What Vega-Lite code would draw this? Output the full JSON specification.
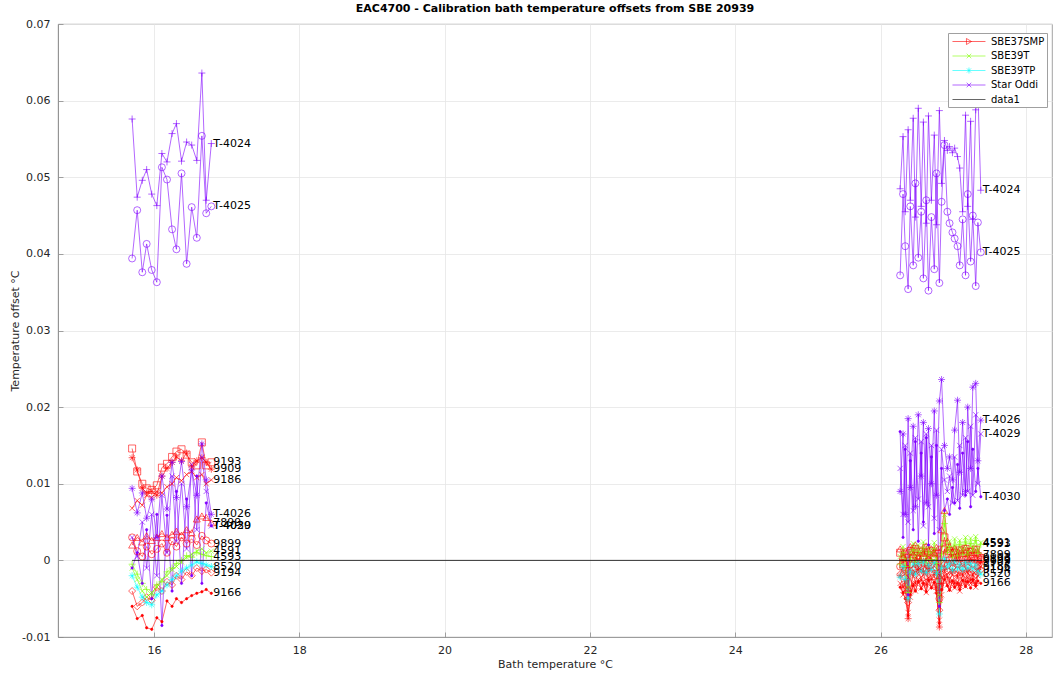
{
"$schema": "https://vega.github.io/schema/vega-lite/v6.json",
"autosize": "none",
"padding": {"left": 58, "top": 24, "right": 1, "bottom": 41},
"width": 994,
"height": 613,
"background": "white",
"title": {"text": "EAC4700 - Calibration bath temperature offsets from SBE 20939", "fontSize": 11, "fontWeight": "bold", "font": "DejaVu Sans", "color": "#000000", "offset": 4, "anchor": "middle"},
"datasets": {
"series": [
{"n":"9193","type":"SBE37SMP"},{"n":"9909","type":"SBE37SMP"},{"n":"9186","type":"SBE37SMP"},{"n":"7899","type":"SBE37SMP"},{"n":"9899","type":"SBE37SMP"},{"n":"9194","type":"SBE37SMP"},{"n":"9166","type":"SBE37SMP"},
{"n":"4591","type":"SBE39T"},{"n":"4593","type":"SBE39T"},{"n":"8520","type":"SBE39TP"},
{"n":"T-4024","type":"Star Oddi"},{"n":"T-4025","type":"Star Oddi"},{"n":"T-4026","type":"Star Oddi"},{"n":"T-4029","type":"Star Oddi"},{"n":"T-4030","type":"Star Oddi"}
],
"temps": [
{"k":0,"x":15.70,"c":1},{"k":1,"x":15.77,"c":1},{"k":2,"x":15.84,"c":1},{"k":3,"x":15.90,"c":1},{"k":4,"x":15.97,"c":1},{"k":5,"x":16.04,"c":1},{"k":6,"x":16.11,"c":1},{"k":7,"x":16.18,"c":1},{"k":8,"x":16.25,"c":1},{"k":9,"x":16.31,"c":1},{"k":10,"x":16.38,"c":1},{"k":11,"x":16.45,"c":1},{"k":12,"x":16.52,"c":1},{"k":13,"x":16.59,"c":1},{"k":14,"x":16.66,"c":1},{"k":15,"x":16.72,"c":1},{"k":16,"x":16.79,"c":1},
{"k":17,"x":26.27,"c":2},{"k":18,"x":26.31,"c":2},{"k":19,"x":26.34,"c":2},{"k":20,"x":26.38,"c":2},{"k":21,"x":26.41,"c":2},{"k":22,"x":26.45,"c":2},{"k":23,"x":26.48,"c":2},{"k":24,"x":26.52,"c":2},{"k":25,"x":26.56,"c":2},{"k":26,"x":26.59,"c":2},{"k":27,"x":26.63,"c":2},{"k":28,"x":26.66,"c":2},{"k":29,"x":26.70,"c":2},{"k":30,"x":26.74,"c":2},{"k":31,"x":26.77,"c":2},{"k":32,"x":26.81,"c":2},{"k":33,"x":26.84,"c":2},{"k":34,"x":26.88,"c":2},{"k":35,"x":26.92,"c":2},{"k":36,"x":26.95,"c":2},{"k":37,"x":26.99,"c":2},{"k":38,"x":27.02,"c":2},{"k":39,"x":27.06,"c":2},{"k":40,"x":27.09,"c":2},{"k":41,"x":27.13,"c":2},{"k":42,"x":27.17,"c":2},{"k":43,"x":27.20,"c":2},{"k":44,"x":27.24,"c":2},{"k":45,"x":27.27,"c":2},{"k":46,"x":27.31,"c":2},{"k":47,"x":27.34,"c":2},{"k":48,"x":27.38,"c":2}
],
"zero": [{"type":"data1","x":15.70,"y":0},{"type":"data1","x":27.40,"y":0}],
"obs": [
{"n":"9193","k":0,"y":0.0146},{"n":"9193","k":1,"y":0.0116},{"n":"9193","k":2,"y":0.0100},{"n":"9193","k":3,"y":0.0094},{"n":"9193","k":4,"y":0.0092},{"n":"9193","k":5,"y":0.0098},{"n":"9193","k":6,"y":0.0121},{"n":"9193","k":7,"y":0.0126},{"n":"9193","k":8,"y":0.0135},{"n":"9193","k":9,"y":0.0142},{"n":"9193","k":10,"y":0.0145},{"n":"9193","k":11,"y":0.0138},{"n":"9193","k":12,"y":0.0128},{"n":"9193","k":13,"y":0.0124},{"n":"9193","k":14,"y":0.0154},{"n":"9193","k":15,"y":0.0124},{"n":"9193","k":16,"y":0.0128},
{"n":"9193","k":17,"y":0.0010},{"n":"9193","k":18,"y":-0.0005},{"n":"9193","k":19,"y":0.0008},{"n":"9193","k":20,"y":-0.0030},{"n":"9193","k":21,"y":0.0012},{"n":"9193","k":22,"y":0.0002},{"n":"9193","k":23,"y":0.0015},{"n":"9193","k":24,"y":-0.0003},{"n":"9193","k":25,"y":0.0011},{"n":"9193","k":26,"y":0.0004},{"n":"9193","k":27,"y":0.0016},{"n":"9193","k":28,"y":-0.0002},{"n":"9193","k":29,"y":0.0012},{"n":"9193","k":30,"y":0.0005},{"n":"9193","k":31,"y":0.0009},{"n":"9193","k":32,"y":-0.0035},{"n":"9193","k":33,"y":0.0014},{"n":"9193","k":34,"y":0.0030},{"n":"9193","k":35,"y":0.0008},{"n":"9193","k":36,"y":0.0012},{"n":"9193","k":37,"y":0.0003},{"n":"9193","k":38,"y":0.0010},{"n":"9193","k":39,"y":-0.0001},{"n":"9193","k":40,"y":0.0013},{"n":"9193","k":41,"y":0.0004},{"n":"9193","k":42,"y":0.0015},{"n":"9193","k":43,"y":0.0002},{"n":"9193","k":44,"y":0.0011},{"n":"9193","k":45,"y":0.0006},{"n":"9193","k":46,"y":0.0014},{"n":"9193","k":47,"y":0.0001},{"n":"9193","k":48,"y":0.0003},
{"n":"9909","k":0,"y":0.0134},{"n":"9909","k":1,"y":0.0118},{"n":"9909","k":2,"y":0.0094},{"n":"9909","k":3,"y":0.0088},{"n":"9909","k":4,"y":0.0090},{"n":"9909","k":5,"y":0.0085},{"n":"9909","k":6,"y":0.0110},{"n":"9909","k":7,"y":0.0120},{"n":"9909","k":8,"y":0.0128},{"n":"9909","k":9,"y":0.0135},{"n":"9909","k":10,"y":0.0130},{"n":"9909","k":11,"y":0.0140},{"n":"9909","k":12,"y":0.0122},{"n":"9909","k":13,"y":0.0130},{"n":"9909","k":14,"y":0.0134},{"n":"9909","k":15,"y":0.0128},{"n":"9909","k":16,"y":0.0119},
{"n":"9909","k":17,"y":-0.0020},{"n":"9909","k":18,"y":-0.0035},{"n":"9909","k":19,"y":-0.0028},{"n":"9909","k":20,"y":-0.0076},{"n":"9909","k":21,"y":-0.0040},{"n":"9909","k":22,"y":-0.0018},{"n":"9909","k":23,"y":-0.0030},{"n":"9909","k":24,"y":-0.0012},{"n":"9909","k":25,"y":-0.0026},{"n":"9909","k":26,"y":-0.0015},{"n":"9909","k":27,"y":-0.0032},{"n":"9909","k":28,"y":-0.0010},{"n":"9909","k":29,"y":-0.0025},{"n":"9909","k":30,"y":-0.0018},{"n":"9909","k":31,"y":-0.0035},{"n":"9909","k":32,"y":-0.0087},{"n":"9909","k":33,"y":-0.0030},{"n":"9909","k":34,"y":-0.0012},{"n":"9909","k":35,"y":-0.0022},{"n":"9909","k":36,"y":-0.0028},{"n":"9909","k":37,"y":-0.0015},{"n":"9909","k":38,"y":-0.0030},{"n":"9909","k":39,"y":-0.0020},{"n":"9909","k":40,"y":-0.0033},{"n":"9909","k":41,"y":-0.0018},{"n":"9909","k":42,"y":-0.0028},{"n":"9909","k":43,"y":-0.0014},{"n":"9909","k":44,"y":-0.0026},{"n":"9909","k":45,"y":-0.0019},{"n":"9909","k":46,"y":-0.0030},{"n":"9909","k":47,"y":-0.0012},{"n":"9909","k":48,"y":-0.0002},
{"n":"9186","k":0,"y":0.0068},{"n":"9186","k":1,"y":0.0078},{"n":"9186","k":2,"y":0.0072},{"n":"9186","k":3,"y":0.0085},{"n":"9186","k":4,"y":0.0082},{"n":"9186","k":5,"y":0.0090},{"n":"9186","k":6,"y":0.0088},{"n":"9186","k":7,"y":0.0096},{"n":"9186","k":8,"y":0.0100},{"n":"9186","k":9,"y":0.0108},{"n":"9186","k":10,"y":0.0104},{"n":"9186","k":11,"y":0.0112},{"n":"9186","k":12,"y":0.0116},{"n":"9186","k":13,"y":0.0108},{"n":"9186","k":14,"y":0.0112},{"n":"9186","k":15,"y":0.0100},{"n":"9186","k":16,"y":0.0105},
{"n":"9186","k":17,"y":-0.0030},{"n":"9186","k":18,"y":-0.0045},{"n":"9186","k":19,"y":-0.0038},{"n":"9186","k":20,"y":-0.0068},{"n":"9186","k":21,"y":-0.0048},{"n":"9186","k":22,"y":-0.0030},{"n":"9186","k":23,"y":-0.0040},{"n":"9186","k":24,"y":-0.0025},{"n":"9186","k":25,"y":-0.0036},{"n":"9186","k":26,"y":-0.0028},{"n":"9186","k":27,"y":-0.0042},{"n":"9186","k":28,"y":-0.0022},{"n":"9186","k":29,"y":-0.0035},{"n":"9186","k":30,"y":-0.0027},{"n":"9186","k":31,"y":-0.0040},{"n":"9186","k":32,"y":-0.0078},{"n":"9186","k":33,"y":-0.0045},{"n":"9186","k":34,"y":-0.0020},{"n":"9186","k":35,"y":-0.0032},{"n":"9186","k":36,"y":-0.0038},{"n":"9186","k":37,"y":-0.0026},{"n":"9186","k":38,"y":-0.0036},{"n":"9186","k":39,"y":-0.0028},{"n":"9186","k":40,"y":-0.0040},{"n":"9186","k":41,"y":-0.0025},{"n":"9186","k":42,"y":-0.0034},{"n":"9186","k":43,"y":-0.0022},{"n":"9186","k":44,"y":-0.0030},{"n":"9186","k":45,"y":-0.0027},{"n":"9186","k":46,"y":-0.0035},{"n":"9186","k":47,"y":-0.0020},{"n":"9186","k":48,"y":-0.0008},
{"n":"7899","k":0,"y":0.0020},{"n":"7899","k":1,"y":0.0030},{"n":"7899","k":2,"y":0.0024},{"n":"7899","k":3,"y":0.0032},{"n":"7899","k":4,"y":0.0026},{"n":"7899","k":5,"y":0.0030},{"n":"7899","k":6,"y":0.0035},{"n":"7899","k":7,"y":0.0030},{"n":"7899","k":8,"y":0.0034},{"n":"7899","k":9,"y":0.0038},{"n":"7899","k":10,"y":0.0033},{"n":"7899","k":11,"y":0.0040},{"n":"7899","k":12,"y":0.0036},{"n":"7899","k":13,"y":0.0054},{"n":"7899","k":14,"y":0.0058},{"n":"7899","k":15,"y":0.0056},{"n":"7899","k":16,"y":0.0049},
{"n":"7899","k":17,"y":0.0015},{"n":"7899","k":18,"y":0.0005},{"n":"7899","k":19,"y":0.0012},{"n":"7899","k":20,"y":-0.0010},{"n":"7899","k":21,"y":0.0018},{"n":"7899","k":22,"y":0.0008},{"n":"7899","k":23,"y":0.0020},{"n":"7899","k":24,"y":0.0006},{"n":"7899","k":25,"y":0.0014},{"n":"7899","k":26,"y":0.0009},{"n":"7899","k":27,"y":0.0019},{"n":"7899","k":28,"y":0.0004},{"n":"7899","k":29,"y":0.0015},{"n":"7899","k":30,"y":0.0010},{"n":"7899","k":31,"y":0.0017},{"n":"7899","k":32,"y":-0.0020},{"n":"7899","k":33,"y":0.0040},{"n":"7899","k":34,"y":0.0065},{"n":"7899","k":35,"y":0.0025},{"n":"7899","k":36,"y":0.0018},{"n":"7899","k":37,"y":0.0011},{"n":"7899","k":38,"y":0.0016},{"n":"7899","k":39,"y":0.0007},{"n":"7899","k":40,"y":0.0014},{"n":"7899","k":41,"y":0.0009},{"n":"7899","k":42,"y":0.0017},{"n":"7899","k":43,"y":0.0005},{"n":"7899","k":44,"y":0.0013},{"n":"7899","k":45,"y":0.0008},{"n":"7899","k":46,"y":0.0015},{"n":"7899","k":47,"y":0.0010},{"n":"7899","k":48,"y":0.0007},
{"n":"9899","k":0,"y":0.0030},{"n":"9899","k":1,"y":0.0012},{"n":"9899","k":2,"y":0.0005},{"n":"9899","k":3,"y":0.0018},{"n":"9899","k":4,"y":0.0008},{"n":"9899","k":5,"y":0.0015},{"n":"9899","k":6,"y":0.0022},{"n":"9899","k":7,"y":0.0010},{"n":"9899","k":8,"y":0.0025},{"n":"9899","k":9,"y":0.0018},{"n":"9899","k":10,"y":0.0030},{"n":"9899","k":11,"y":0.0022},{"n":"9899","k":12,"y":0.0028},{"n":"9899","k":13,"y":0.0020},{"n":"9899","k":14,"y":0.0032},{"n":"9899","k":15,"y":0.0026},{"n":"9899","k":16,"y":0.0022},
{"n":"9899","k":17,"y":-0.0008},{"n":"9899","k":18,"y":0.0002},{"n":"9899","k":19,"y":-0.0012},{"n":"9899","k":20,"y":-0.0040},{"n":"9899","k":21,"y":-0.0005},{"n":"9899","k":22,"y":0.0004},{"n":"9899","k":23,"y":-0.0010},{"n":"9899","k":24,"y":0.0001},{"n":"9899","k":25,"y":-0.0007},{"n":"9899","k":26,"y":0.0003},{"n":"9899","k":27,"y":-0.0011},{"n":"9899","k":28,"y":0.0000},{"n":"9899","k":29,"y":-0.0006},{"n":"9899","k":30,"y":0.0002},{"n":"9899","k":31,"y":-0.0009},{"n":"9899","k":32,"y":-0.0050},{"n":"9899","k":33,"y":-0.0004},{"n":"9899","k":34,"y":0.0015},{"n":"9899","k":35,"y":-0.0006},{"n":"9899","k":36,"y":0.0001},{"n":"9899","k":37,"y":-0.0008},{"n":"9899","k":38,"y":0.0003},{"n":"9899","k":39,"y":-0.0005},{"n":"9899","k":40,"y":0.0002},{"n":"9899","k":41,"y":-0.0009},{"n":"9899","k":42,"y":0.0001},{"n":"9899","k":43,"y":-0.0006},{"n":"9899","k":44,"y":0.0003},{"n":"9899","k":45,"y":-0.0004},{"n":"9899","k":46,"y":0.0002},{"n":"9899","k":47,"y":-0.0007},{"n":"9899","k":48,"y":0.0001},
{"n":"9194","k":0,"y":-0.0040},{"n":"9194","k":1,"y":-0.0060},{"n":"9194","k":2,"y":-0.0055},{"n":"9194","k":3,"y":-0.0048},{"n":"9194","k":4,"y":-0.0052},{"n":"9194","k":5,"y":-0.0035},{"n":"9194","k":6,"y":-0.0040},{"n":"9194","k":7,"y":-0.0028},{"n":"9194","k":8,"y":-0.0032},{"n":"9194","k":9,"y":-0.0020},{"n":"9194","k":10,"y":-0.0025},{"n":"9194","k":11,"y":-0.0015},{"n":"9194","k":12,"y":-0.0020},{"n":"9194","k":13,"y":-0.0010},{"n":"9194","k":14,"y":-0.0014},{"n":"9194","k":15,"y":-0.0012},{"n":"9194","k":16,"y":-0.0016},
{"n":"9194","k":17,"y":-0.0018},{"n":"9194","k":18,"y":-0.0010},{"n":"9194","k":19,"y":-0.0022},{"n":"9194","k":20,"y":-0.0055},{"n":"9194","k":21,"y":-0.0020},{"n":"9194","k":22,"y":-0.0012},{"n":"9194","k":23,"y":-0.0019},{"n":"9194","k":24,"y":-0.0008},{"n":"9194","k":25,"y":-0.0017},{"n":"9194","k":26,"y":-0.0011},{"n":"9194","k":27,"y":-0.0021},{"n":"9194","k":28,"y":-0.0009},{"n":"9194","k":29,"y":-0.0016},{"n":"9194","k":30,"y":-0.0012},{"n":"9194","k":31,"y":-0.0020},{"n":"9194","k":32,"y":-0.0065},{"n":"9194","k":33,"y":-0.0018},{"n":"9194","k":34,"y":-0.0005},{"n":"9194","k":35,"y":-0.0014},{"n":"9194","k":36,"y":-0.0019},{"n":"9194","k":37,"y":-0.0010},{"n":"9194","k":38,"y":-0.0017},{"n":"9194","k":39,"y":-0.0012},{"n":"9194","k":40,"y":-0.0020},{"n":"9194","k":41,"y":-0.0011},{"n":"9194","k":42,"y":-0.0018},{"n":"9194","k":43,"y":-0.0009},{"n":"9194","k":44,"y":-0.0016},{"n":"9194","k":45,"y":-0.0013},{"n":"9194","k":46,"y":-0.0019},{"n":"9194","k":47,"y":-0.0010},{"n":"9194","k":48,"y":-0.0012},
{"n":"9166","k":0,"y":-0.0060},{"n":"9166","k":1,"y":-0.0076},{"n":"9166","k":2,"y":-0.0072},{"n":"9166","k":3,"y":-0.0088},{"n":"9166","k":4,"y":-0.0090},{"n":"9166","k":5,"y":-0.0075},{"n":"9166","k":6,"y":-0.0080},{"n":"9166","k":7,"y":-0.0053},{"n":"9166","k":8,"y":-0.0060},{"n":"9166","k":9,"y":-0.0050},{"n":"9166","k":10,"y":-0.0055},{"n":"9166","k":11,"y":-0.0050},{"n":"9166","k":12,"y":-0.0046},{"n":"9166","k":13,"y":-0.0043},{"n":"9166","k":14,"y":-0.0041},{"n":"9166","k":15,"y":-0.0038},{"n":"9166","k":16,"y":-0.0043},
{"n":"9166","k":17,"y":-0.0035},{"n":"9166","k":18,"y":-0.0042},{"n":"9166","k":19,"y":-0.0050},{"n":"9166","k":20,"y":-0.0072},{"n":"9166","k":21,"y":-0.0045},{"n":"9166","k":22,"y":-0.0033},{"n":"9166","k":23,"y":-0.0040},{"n":"9166","k":24,"y":-0.0028},{"n":"9166","k":25,"y":-0.0037},{"n":"9166","k":26,"y":-0.0030},{"n":"9166","k":27,"y":-0.0041},{"n":"9166","k":28,"y":-0.0026},{"n":"9166","k":29,"y":-0.0036},{"n":"9166","k":30,"y":-0.0029},{"n":"9166","k":31,"y":-0.0043},{"n":"9166","k":32,"y":-0.0082},{"n":"9166","k":33,"y":-0.0038},{"n":"9166","k":34,"y":-0.0025},{"n":"9166","k":35,"y":-0.0033},{"n":"9166","k":36,"y":-0.0039},{"n":"9166","k":37,"y":-0.0027},{"n":"9166","k":38,"y":-0.0035},{"n":"9166","k":39,"y":-0.0030},{"n":"9166","k":40,"y":-0.0038},{"n":"9166","k":41,"y":-0.0026},{"n":"9166","k":42,"y":-0.0034},{"n":"9166","k":43,"y":-0.0028},{"n":"9166","k":44,"y":-0.0036},{"n":"9166","k":45,"y":-0.0025},{"n":"9166","k":46,"y":-0.0033},{"n":"9166","k":47,"y":-0.0027},{"n":"9166","k":48,"y":-0.0030},
{"n":"4591","k":0,"y":-0.0010},{"n":"4591","k":1,"y":-0.0025},{"n":"4591","k":2,"y":-0.0040},{"n":"4591","k":3,"y":-0.0048},{"n":"4591","k":4,"y":-0.0042},{"n":"4591","k":5,"y":-0.0035},{"n":"4591","k":6,"y":-0.0025},{"n":"4591","k":7,"y":-0.0020},{"n":"4591","k":8,"y":-0.0012},{"n":"4591","k":9,"y":-0.0008},{"n":"4591","k":10,"y":-0.0002},{"n":"4591","k":11,"y":0.0004},{"n":"4591","k":12,"y":0.0008},{"n":"4591","k":13,"y":0.0012},{"n":"4591","k":14,"y":0.0015},{"n":"4591","k":15,"y":0.0010},{"n":"4591","k":16,"y":0.0012},
{"n":"4591","k":17,"y":0.0005},{"n":"4591","k":18,"y":0.0018},{"n":"4591","k":19,"y":0.0002},{"n":"4591","k":20,"y":-0.0035},{"n":"4591","k":21,"y":0.0010},{"n":"4591","k":22,"y":0.0022},{"n":"4591","k":23,"y":0.0006},{"n":"4591","k":24,"y":0.0020},{"n":"4591","k":25,"y":0.0008},{"n":"4591","k":26,"y":0.0024},{"n":"4591","k":27,"y":0.0004},{"n":"4591","k":28,"y":0.0019},{"n":"4591","k":29,"y":0.0009},{"n":"4591","k":30,"y":0.0023},{"n":"4591","k":31,"y":0.0003},{"n":"4591","k":32,"y":-0.0045},{"n":"4591","k":33,"y":0.0020},{"n":"4591","k":34,"y":0.0060},{"n":"4591","k":35,"y":0.0015},{"n":"4591","k":36,"y":0.0025},{"n":"4591","k":37,"y":0.0010},{"n":"4591","k":38,"y":0.0028},{"n":"4591","k":39,"y":0.0012},{"n":"4591","k":40,"y":0.0026},{"n":"4591","k":41,"y":0.0014},{"n":"4591","k":42,"y":0.0030},{"n":"4591","k":43,"y":0.0011},{"n":"4591","k":44,"y":0.0029},{"n":"4591","k":45,"y":0.0016},{"n":"4591","k":46,"y":0.0031},{"n":"4591","k":47,"y":0.0013},{"n":"4591","k":48,"y":0.0023},
{"n":"4593","k":0,"y":-0.0005},{"n":"4593","k":1,"y":-0.0018},{"n":"4593","k":2,"y":-0.0030},{"n":"4593","k":3,"y":-0.0038},{"n":"4593","k":4,"y":-0.0045},{"n":"4593","k":5,"y":-0.0032},{"n":"4593","k":6,"y":-0.0028},{"n":"4593","k":7,"y":-0.0015},{"n":"4593","k":8,"y":-0.0010},{"n":"4593","k":9,"y":-0.0004},{"n":"4593","k":10,"y":0.0000},{"n":"4593","k":11,"y":0.0006},{"n":"4593","k":12,"y":0.0004},{"n":"4593","k":13,"y":0.0010},{"n":"4593","k":14,"y":0.0008},{"n":"4593","k":15,"y":0.0006},{"n":"4593","k":16,"y":0.0005},
{"n":"4593","k":17,"y":-0.0005},{"n":"4593","k":18,"y":0.0010},{"n":"4593","k":19,"y":-0.0008},{"n":"4593","k":20,"y":-0.0042},{"n":"4593","k":21,"y":0.0002},{"n":"4593","k":22,"y":0.0014},{"n":"4593","k":23,"y":-0.0002},{"n":"4593","k":24,"y":0.0012},{"n":"4593","k":25,"y":0.0000},{"n":"4593","k":26,"y":0.0016},{"n":"4593","k":27,"y":-0.0003},{"n":"4593","k":28,"y":0.0011},{"n":"4593","k":29,"y":0.0001},{"n":"4593","k":30,"y":0.0015},{"n":"4593","k":31,"y":-0.0004},{"n":"4593","k":32,"y":-0.0055},{"n":"4593","k":33,"y":0.0008},{"n":"4593","k":34,"y":0.0048},{"n":"4593","k":35,"y":0.0010},{"n":"4593","k":36,"y":0.0018},{"n":"4593","k":37,"y":0.0004},{"n":"4593","k":38,"y":0.0020},{"n":"4593","k":39,"y":0.0006},{"n":"4593","k":40,"y":0.0021},{"n":"4593","k":41,"y":0.0008},{"n":"4593","k":42,"y":0.0024},{"n":"4593","k":43,"y":0.0007},{"n":"4593","k":44,"y":0.0022},{"n":"4593","k":45,"y":0.0012},{"n":"4593","k":46,"y":0.0026},{"n":"4593","k":47,"y":0.0009},{"n":"4593","k":48,"y":0.0021},
{"n":"8520","k":0,"y":-0.0020},{"n":"8520","k":1,"y":-0.0035},{"n":"8520","k":2,"y":-0.0048},{"n":"8520","k":3,"y":-0.0055},{"n":"8520","k":4,"y":-0.0058},{"n":"8520","k":5,"y":-0.0045},{"n":"8520","k":6,"y":-0.0040},{"n":"8520","k":7,"y":-0.0032},{"n":"8520","k":8,"y":-0.0025},{"n":"8520","k":9,"y":-0.0020},{"n":"8520","k":10,"y":-0.0014},{"n":"8520","k":11,"y":-0.0010},{"n":"8520","k":12,"y":-0.0006},{"n":"8520","k":13,"y":-0.0002},{"n":"8520","k":14,"y":-0.0004},{"n":"8520","k":15,"y":-0.0006},{"n":"8520","k":16,"y":-0.0008},
{"n":"8520","k":17,"y":-0.0022},{"n":"8520","k":18,"y":-0.0008},{"n":"8520","k":19,"y":-0.0025},{"n":"8520","k":20,"y":-0.0050},{"n":"8520","k":21,"y":-0.0015},{"n":"8520","k":22,"y":-0.0005},{"n":"8520","k":23,"y":-0.0018},{"n":"8520","k":24,"y":-0.0004},{"n":"8520","k":25,"y":-0.0014},{"n":"8520","k":26,"y":-0.0002},{"n":"8520","k":27,"y":-0.0016},{"n":"8520","k":28,"y":-0.0006},{"n":"8520","k":29,"y":-0.0012},{"n":"8520","k":30,"y":-0.0003},{"n":"8520","k":31,"y":-0.0017},{"n":"8520","k":32,"y":-0.0070},{"n":"8520","k":33,"y":-0.0010},{"n":"8520","k":34,"y":0.0002},{"n":"8520","k":35,"y":-0.0009},{"n":"8520","k":36,"y":-0.0004},{"n":"8520","k":37,"y":-0.0013},{"n":"8520","k":38,"y":-0.0002},{"n":"8520","k":39,"y":-0.0011},{"n":"8520","k":40,"y":-0.0005},{"n":"8520","k":41,"y":-0.0012},{"n":"8520","k":42,"y":-0.0003},{"n":"8520","k":43,"y":-0.0010},{"n":"8520","k":44,"y":-0.0004},{"n":"8520","k":45,"y":-0.0011},{"n":"8520","k":46,"y":-0.0006},{"n":"8520","k":47,"y":-0.0014},{"n":"8520","k":48,"y":-0.0018},
{"n":"T-4024","k":0,"y":0.0576},{"n":"T-4024","k":1,"y":0.0474},{"n":"T-4024","k":2,"y":0.0496},{"n":"T-4024","k":3,"y":0.0510},{"n":"T-4024","k":4,"y":0.0478},{"n":"T-4024","k":5,"y":0.0463},{"n":"T-4024","k":6,"y":0.0531},{"n":"T-4024","k":7,"y":0.0520},{"n":"T-4024","k":8,"y":0.0557},{"n":"T-4024","k":9,"y":0.0570},{"n":"T-4024","k":10,"y":0.0521},{"n":"T-4024","k":11,"y":0.0546},{"n":"T-4024","k":12,"y":0.0542},{"n":"T-4024","k":13,"y":0.0522},{"n":"T-4024","k":14,"y":0.0636},{"n":"T-4024","k":15,"y":0.0470},{"n":"T-4024","k":16,"y":0.0544},
{"n":"T-4024","k":17,"y":0.0485},{"n":"T-4024","k":18,"y":0.0553},{"n":"T-4024","k":19,"y":0.0455},{"n":"T-4024","k":20,"y":0.0562},{"n":"T-4024","k":21,"y":0.0470},{"n":"T-4024","k":22,"y":0.0577},{"n":"T-4024","k":23,"y":0.0448},{"n":"T-4024","k":24,"y":0.0590},{"n":"T-4024","k":25,"y":0.0462},{"n":"T-4024","k":26,"y":0.0572},{"n":"T-4024","k":27,"y":0.0440},{"n":"T-4024","k":28,"y":0.0580},{"n":"T-4024","k":29,"y":0.0470},{"n":"T-4024","k":30,"y":0.0555},{"n":"T-4024","k":31,"y":0.0438},{"n":"T-4024","k":32,"y":0.0587},{"n":"T-4024","k":33,"y":0.0492},{"n":"T-4024","k":34,"y":0.0548},{"n":"T-4024","k":35,"y":0.0535},{"n":"T-4024","k":36,"y":0.0540},{"n":"T-4024","k":37,"y":0.0532},{"n":"T-4024","k":38,"y":0.0538},{"n":"T-4024","k":39,"y":0.0527},{"n":"T-4024","k":40,"y":0.0512},{"n":"T-4024","k":41,"y":0.0455},{"n":"T-4024","k":42,"y":0.0581},{"n":"T-4024","k":43,"y":0.0462},{"n":"T-4024","k":44,"y":0.0573},{"n":"T-4024","k":45,"y":0.0445},{"n":"T-4024","k":46,"y":0.0588},{"n":"T-4024","k":47,"y":0.0612},{"n":"T-4024","k":48,"y":0.0483},
{"n":"T-4025","k":0,"y":0.0394},{"n":"T-4025","k":1,"y":0.0457},{"n":"T-4025","k":2,"y":0.0376},{"n":"T-4025","k":3,"y":0.0413},{"n":"T-4025","k":4,"y":0.0379},{"n":"T-4025","k":5,"y":0.0363},{"n":"T-4025","k":6,"y":0.0513},{"n":"T-4025","k":7,"y":0.0497},{"n":"T-4025","k":8,"y":0.0432},{"n":"T-4025","k":9,"y":0.0406},{"n":"T-4025","k":10,"y":0.0505},{"n":"T-4025","k":11,"y":0.0387},{"n":"T-4025","k":12,"y":0.0461},{"n":"T-4025","k":13,"y":0.0421},{"n":"T-4025","k":14,"y":0.0554},{"n":"T-4025","k":15,"y":0.0453},{"n":"T-4025","k":16,"y":0.0462},
{"n":"T-4025","k":17,"y":0.0372},{"n":"T-4025","k":18,"y":0.0478},{"n":"T-4025","k":19,"y":0.0410},{"n":"T-4025","k":20,"y":0.0354},{"n":"T-4025","k":21,"y":0.0462},{"n":"T-4025","k":22,"y":0.0385},{"n":"T-4025","k":23,"y":0.0492},{"n":"T-4025","k":24,"y":0.0395},{"n":"T-4025","k":25,"y":0.0455},{"n":"T-4025","k":26,"y":0.0368},{"n":"T-4025","k":27,"y":0.0470},{"n":"T-4025","k":28,"y":0.0352},{"n":"T-4025","k":29,"y":0.0448},{"n":"T-4025","k":30,"y":0.0380},{"n":"T-4025","k":31,"y":0.0505},{"n":"T-4025","k":32,"y":0.0362},{"n":"T-4025","k":33,"y":0.0468},{"n":"T-4025","k":34,"y":0.0542},{"n":"T-4025","k":35,"y":0.0455},{"n":"T-4025","k":36,"y":0.0440},{"n":"T-4025","k":37,"y":0.0428},{"n":"T-4025","k":38,"y":0.0420},{"n":"T-4025","k":39,"y":0.0410},{"n":"T-4025","k":40,"y":0.0385},{"n":"T-4025","k":41,"y":0.0445},{"n":"T-4025","k":42,"y":0.0372},{"n":"T-4025","k":43,"y":0.0478},{"n":"T-4025","k":44,"y":0.0390},{"n":"T-4025","k":45,"y":0.0450},{"n":"T-4025","k":46,"y":0.0358},{"n":"T-4025","k":47,"y":0.0441},{"n":"T-4025","k":48,"y":0.0402},
{"n":"T-4026","k":0,"y":0.0094},{"n":"T-4026","k":1,"y":0.0062},{"n":"T-4026","k":2,"y":0.0088},{"n":"T-4026","k":3,"y":0.0055},{"n":"T-4026","k":4,"y":0.0080},{"n":"T-4026","k":5,"y":0.0030},{"n":"T-4026","k":6,"y":0.0110},{"n":"T-4026","k":7,"y":0.0067},{"n":"T-4026","k":8,"y":0.0128},{"n":"T-4026","k":9,"y":0.0082},{"n":"T-4026","k":10,"y":0.0129},{"n":"T-4026","k":11,"y":0.0070},{"n":"T-4026","k":12,"y":0.0118},{"n":"T-4026","k":13,"y":0.0085},{"n":"T-4026","k":14,"y":0.0152},{"n":"T-4026","k":15,"y":0.0105},{"n":"T-4026","k":16,"y":0.0060},
{"n":"T-4026","k":17,"y":0.0090},{"n":"T-4026","k":18,"y":0.0165},{"n":"T-4026","k":19,"y":0.0060},{"n":"T-4026","k":20,"y":0.0185},{"n":"T-4026","k":21,"y":0.0095},{"n":"T-4026","k":22,"y":0.0175},{"n":"T-4026","k":23,"y":0.0070},{"n":"T-4026","k":24,"y":0.0190},{"n":"T-4026","k":25,"y":0.0110},{"n":"T-4026","k":26,"y":0.0180},{"n":"T-4026","k":27,"y":0.0075},{"n":"T-4026","k":28,"y":0.0172},{"n":"T-4026","k":29,"y":0.0100},{"n":"T-4026","k":30,"y":0.0195},{"n":"T-4026","k":31,"y":0.0085},{"n":"T-4026","k":32,"y":0.0208},{"n":"T-4026","k":33,"y":0.0236},{"n":"T-4026","k":34,"y":0.0150},{"n":"T-4026","k":35,"y":0.0120},{"n":"T-4026","k":36,"y":0.0135},{"n":"T-4026","k":37,"y":0.0105},{"n":"T-4026","k":38,"y":0.0170},{"n":"T-4026","k":39,"y":0.0209},{"n":"T-4026","k":40,"y":0.0115},{"n":"T-4026","k":41,"y":0.0180},{"n":"T-4026","k":42,"y":0.0090},{"n":"T-4026","k":43,"y":0.0200},{"n":"T-4026","k":44,"y":0.0120},{"n":"T-4026","k":45,"y":0.0226},{"n":"T-4026","k":46,"y":0.0231},{"n":"T-4026","k":47,"y":0.0130},{"n":"T-4026","k":48,"y":0.0183},
{"n":"T-4029","k":0,"y":0.0030},{"n":"T-4029","k":1,"y":0.0005},{"n":"T-4029","k":2,"y":0.0050},{"n":"T-4029","k":3,"y":-0.0010},{"n":"T-4029","k":4,"y":0.0060},{"n":"T-4029","k":5,"y":-0.0020},{"n":"T-4029","k":6,"y":0.0085},{"n":"T-4029","k":7,"y":0.0010},{"n":"T-4029","k":8,"y":0.0110},{"n":"T-4029","k":9,"y":0.0025},{"n":"T-4029","k":10,"y":0.0100},{"n":"T-4029","k":11,"y":0.0015},{"n":"T-4029","k":12,"y":0.0125},{"n":"T-4029","k":13,"y":0.0040},{"n":"T-4029","k":14,"y":0.0135},{"n":"T-4029","k":15,"y":0.0090},{"n":"T-4029","k":16,"y":0.0045},
{"n":"T-4029","k":17,"y":0.0120},{"n":"T-4029","k":18,"y":0.0060},{"n":"T-4029","k":19,"y":0.0150},{"n":"T-4029","k":20,"y":0.0050},{"n":"T-4029","k":21,"y":0.0140},{"n":"T-4029","k":22,"y":0.0065},{"n":"T-4029","k":23,"y":0.0160},{"n":"T-4029","k":24,"y":0.0080},{"n":"T-4029","k":25,"y":0.0155},{"n":"T-4029","k":26,"y":0.0045},{"n":"T-4029","k":27,"y":0.0165},{"n":"T-4029","k":28,"y":0.0070},{"n":"T-4029","k":29,"y":0.0150},{"n":"T-4029","k":30,"y":0.0055},{"n":"T-4029","k":31,"y":0.0170},{"n":"T-4029","k":32,"y":0.0040},{"n":"T-4029","k":33,"y":0.0145},{"n":"T-4029","k":34,"y":0.0105},{"n":"T-4029","k":35,"y":0.0090},{"n":"T-4029","k":36,"y":0.0110},{"n":"T-4029","k":37,"y":0.0075},{"n":"T-4029","k":38,"y":0.0135},{"n":"T-4029","k":39,"y":0.0078},{"n":"T-4029","k":40,"y":0.0150},{"n":"T-4029","k":41,"y":0.0085},{"n":"T-4029","k":42,"y":0.0160},{"n":"T-4029","k":43,"y":0.0090},{"n":"T-4029","k":44,"y":0.0175},{"n":"T-4029","k":45,"y":0.0085},{"n":"T-4029","k":46,"y":0.0190},{"n":"T-4029","k":47,"y":0.0100},{"n":"T-4029","k":48,"y":0.0165},
{"n":"T-4030","k":0,"y":-0.0010},{"n":"T-4030","k":1,"y":0.0010},{"n":"T-4030","k":2,"y":-0.0030},{"n":"T-4030","k":3,"y":0.0040},{"n":"T-4030","k":4,"y":-0.0050},{"n":"T-4030","k":5,"y":0.0060},{"n":"T-4030","k":6,"y":-0.0085},{"n":"T-4030","k":7,"y":0.0059},{"n":"T-4030","k":8,"y":-0.0040},{"n":"T-4030","k":9,"y":0.0090},{"n":"T-4030","k":10,"y":-0.0030},{"n":"T-4030","k":11,"y":0.0080},{"n":"T-4030","k":12,"y":-0.0020},{"n":"T-4030","k":13,"y":0.0110},{"n":"T-4030","k":14,"y":-0.0030},{"n":"T-4030","k":15,"y":0.0075},{"n":"T-4030","k":16,"y":0.0045},
{"n":"T-4030","k":17,"y":0.0168},{"n":"T-4030","k":18,"y":0.0030},{"n":"T-4030","k":19,"y":0.0145},{"n":"T-4030","k":20,"y":-0.0045},{"n":"T-4030","k":21,"y":0.0130},{"n":"T-4030","k":22,"y":0.0040},{"n":"T-4030","k":23,"y":0.0155},{"n":"T-4030","k":24,"y":0.0025},{"n":"T-4030","k":25,"y":0.0140},{"n":"T-4030","k":26,"y":0.0050},{"n":"T-4030","k":27,"y":0.0160},{"n":"T-4030","k":28,"y":0.0020},{"n":"T-4030","k":29,"y":0.0135},{"n":"T-4030","k":30,"y":0.0035},{"n":"T-4030","k":31,"y":0.0150},{"n":"T-4030","k":32,"y":-0.0060},{"n":"T-4030","k":33,"y":0.0120},{"n":"T-4030","k":34,"y":0.0065},{"n":"T-4030","k":35,"y":0.0080},{"n":"T-4030","k":36,"y":0.0060},{"n":"T-4030","k":37,"y":0.0095},{"n":"T-4030","k":38,"y":0.0075},{"n":"T-4030","k":39,"y":0.0125},{"n":"T-4030","k":40,"y":0.0068},{"n":"T-4030","k":41,"y":0.0140},{"n":"T-4030","k":42,"y":0.0085},{"n":"T-4030","k":43,"y":0.0155},{"n":"T-4030","k":44,"y":0.0070},{"n":"T-4030","k":45,"y":0.0145},{"n":"T-4030","k":46,"y":0.0090},{"n":"T-4030","k":47,"y":0.0120},{"n":"T-4030","k":48,"y":0.0083}
]
},
"config": {
"font": "DejaVu Sans",
"view": {"stroke": "#8c8c8c", "strokeWidth": 0.8},
"axis": {"grid": true, "gridColor": "#e6e6e6", "gridWidth": 0.8, "domainColor": "#8c8c8c", "domainWidth": 0.8, "tickColor": "#8c8c8c", "tickWidth": 0.8, "tickSize": -5, "labelFontSize": 11, "labelColor": "#262626", "titleFontSize": 11, "titleFontWeight": "normal", "titleColor": "#262626", "labelFont": "DejaVu Sans", "titleFont": "DejaVu Sans"}
},
"layer": [
{
"data": {"name": "obs"},
"transform": [
{"lookup": "n", "from": {"data": {"name": "series"}, "key": "n", "fields": ["type"]}},
{"lookup": "k", "from": {"data": {"name": "temps"}, "key": "k", "fields": ["x", "c"]}}
],
"mark": {"type": "line", "strokeWidth": 0.6, "clip": true},
"encoding": {
"x": {"field": "x", "type": "quantitative", "scale": {"domain": [14.68, 28.36], "nice": false, "zero": false}, "axis": {"values": [16, 18, 20, 22, 24, 26, 28], "labelExpr": "'' + datum.value", "title": "Bath temperature °C", "labelPadding": 12, "titlePadding": 3}},
"y": {"field": "y", "type": "quantitative", "scale": {"domain": [-0.01, 0.07], "nice": false, "zero": false}, "axis": {"values": [-0.01, 0, 0.01, 0.02, 0.03, 0.04, 0.05, 0.06, 0.07], "labelExpr": "'' + datum.value", "title": "Temperature offset °C", "labelPadding": 13, "titlePadding": 1}},
"color": {"field": "type", "type": "nominal",
"scale": {"domain": ["SBE37SMP", "SBE39T", "SBE39TP", "Star Oddi", "data1"], "range": ["#ff0000", "#80ff00", "#00ffff", "#8000ff", "#000000"]},
"legend": {"title": null, "orient": "none", "legendX": 890, "legendY": 9, "padding": 2, "fillColor": "white", "strokeColor": "#a0a0a0", "labelFontSize": 10, "labelColor": "#000000", "labelFont": "DejaVu Sans", "symbolSize": 144, "labelOffset": 28, "rowPadding": 2.5, "symbolStrokeWidth": 0.6, "symbolFillColor": "transparent",
"encode": {"symbols": {"update": {
"shape": {"signal": "datum.value === 'SBE37SMP' ? 'M-0.67,0L4.83,0M1.66,-0.5L2.5,0L1.66,0.5Z' : (datum.value === 'SBE39T' || datum.value === 'Star Oddi') ? 'M-0.67,0L4.83,0M1.7,-0.38L2.46,0.38M1.7,0.38L2.46,-0.38' : datum.value === 'SBE39TP' ? 'M-0.67,0L4.83,0M2.08,-0.5L2.08,0.5M1.73,-0.35L2.43,0.35M1.73,0.35L2.43,-0.35' : 'M-0.67,0L4.83,0'"},
"fill": {"value": "transparent"},
"fillOpacity": {"value": 0},
"stroke": {"scale": "color", "field": "value"},
"strokeWidth": {"value": 0.6},
"size": {"value": 144}
}}}}},
"detail": [{"field": "n"}, {"field": "c"}],
"order": {"field": "k", "type": "quantitative"}
}
},
{
"data": {"name": "obs"},
"transform": [
{"lookup": "n", "from": {"data": {"name": "series"}, "key": "n", "fields": ["type"]}},
{"lookup": "k", "from": {"data": {"name": "temps"}, "key": "k", "fields": ["x", "c"]}}
],
"mark": {"type": "point", "filled": false, "strokeWidth": 0.6, "size": 49, "opacity": 1, "clip": true},
"encoding": {
"x": {"field": "x", "type": "quantitative"},
"y": {"field": "y", "type": "quantitative"},
"color": {"field": "type", "type": "nominal"},
"fill": {"condition": {"test": "datum.n === '9166' || datum.n === 'T-4030'", "field": "type", "type": "nominal", "scale": {"domain": ["SBE37SMP", "SBE39T", "SBE39TP", "Star Oddi", "data1"], "range": ["#ff0000", "#80ff00", "#00ffff", "#8000ff", "#000000"]}, "legend": null}, "value": "transparent"},
"shape": {"field": "n", "type": "nominal", "legend": null,
"scale": {"domain": ["9193", "9909", "9186", "7899", "9899", "9194", "9166", "4591", "4593", "8520", "T-4024", "T-4025", "T-4026", "T-4029", "T-4030"],
"range": ["square", "M-1,0L1,0M0,-1L0,1M-0.7,-0.7L0.7,0.7M-0.7,0.7L0.7,-0.7", "M-0.75,-0.75L0.75,0.75M-0.75,0.75L0.75,-0.75", "triangle-up", "circle", "diamond", "M-0.35,0A0.35,0.35,0,1,0,0.35,0A0.35,0.35,0,1,0,-0.35,0", "M-0.75,-0.75L0.75,0.75M-0.75,0.75L0.75,-0.75", "M-1,0L1,0M0,-1L0,1", "M-1,0L1,0M0,-1L0,1M-0.7,-0.7L0.7,0.7M-0.7,0.7L0.7,-0.7", "M-1,0L1,0M0,-1L0,1", "circle", "M-1,0L1,0M0,-1L0,1M-0.7,-0.7L0.7,0.7M-0.7,0.7L0.7,-0.7", "M-0.75,-0.75L0.75,0.75M-0.75,0.75L0.75,-0.75", "M-0.35,0A0.35,0.35,0,1,0,0.35,0A0.35,0.35,0,1,0,-0.35,0"]}}
}
},
{
"data": {"name": "zero"},
"mark": {"type": "line", "strokeWidth": 0.8},
"encoding": {
"x": {"field": "x", "type": "quantitative"},
"y": {"field": "y", "type": "quantitative"},
"color": {"field": "type", "type": "nominal"}
}
},
{
"data": {"name": "obs"},
"transform": [
{"filter": "datum.k === 16 || datum.k === 48"},
{"lookup": "k", "from": {"data": {"name": "temps"}, "key": "k", "fields": ["x", "c"]}}
],
"mark": {"type": "text", "align": "left", "baseline": "middle", "dx": 2, "fontSize": 11, "font": "DejaVu Sans", "color": "#000000"},
"encoding": {
"x": {"field": "x", "type": "quantitative"},
"y": {"field": "y", "type": "quantitative"},
"text": {"field": "n", "type": "nominal"}
}
}
]
}
